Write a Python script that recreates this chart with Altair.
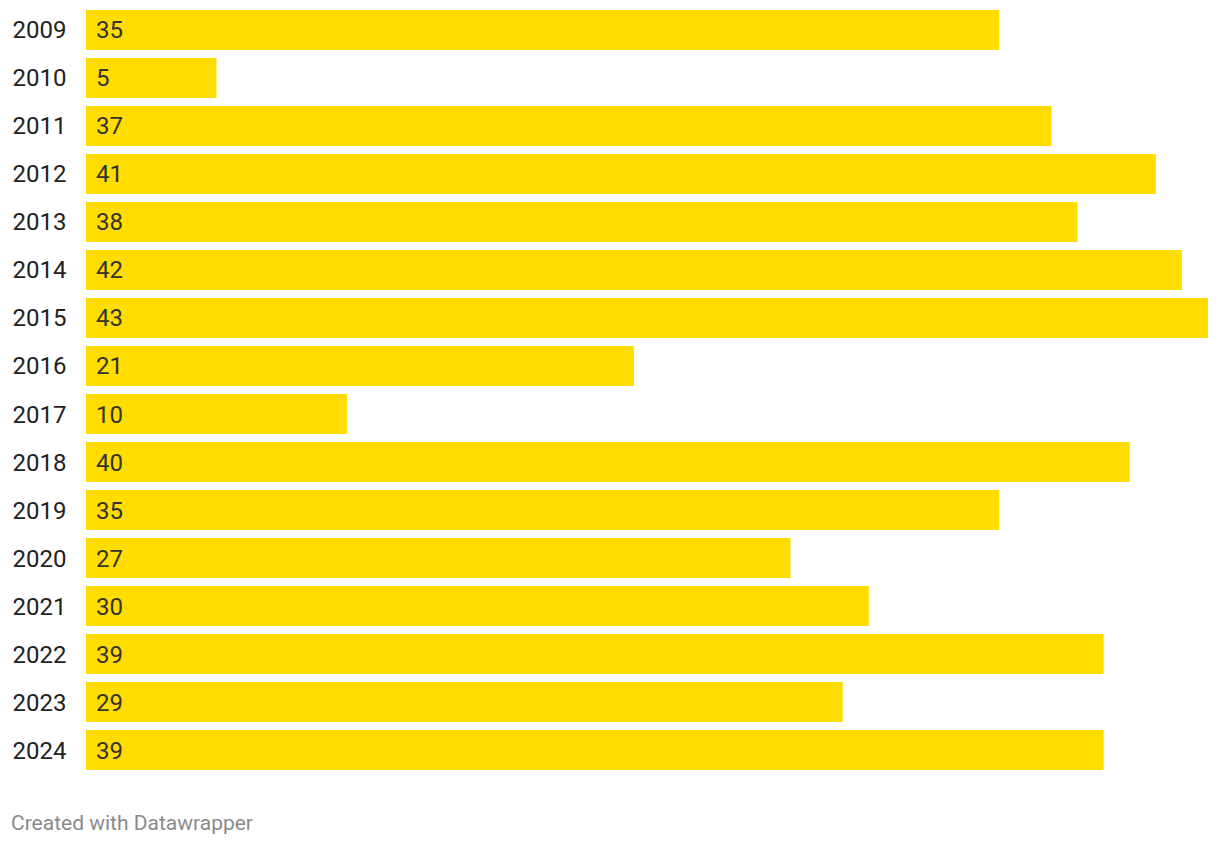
import altair as alt
import pandas as pd

years = ["2009", "2010", "2011", "2012", "2013", "2014", "2015", "2016",
         "2017", "2018", "2019", "2020", "2021", "2022", "2023", "2024"]
values = [35, 5, 37, 41, 38, 42, 43, 21, 10, 40, 35, 27, 30, 39, 29, 39]
footer = "Created with Datawrapper"

df = pd.DataFrame({"year": years, "value": values})

W = 1122
H = 768

y = alt.Y("year:N", sort=years, title=None,
          scale=alt.Scale(paddingInner=0.1667, paddingOuter=0.0833),
          axis=alt.Axis(domain=False, ticks=False, labelAlign="left",
                        labelPadding=74, labelFontSize=24, labelColor="#222222",
                        labelFont="Roboto", labelOffset=1.5, grid=False))
x = alt.X("value:Q", title=None, scale=alt.Scale(domain=[0, 43], nice=False, zero=True),
          axis=None)

bars = alt.Chart(df).mark_bar(color="#FFDD00").encode(x=x, y=y)

labels = alt.Chart(df).mark_text(align="left", baseline="middle", dx=10, dy=1.5,
                                 font="Roboto", fontSize=24, color="#333333").encode(
    x=alt.datum(0), y=alt.Y("year:N", sort=years), text="value:Q")

foot = alt.Chart(pd.DataFrame({"t": [footer]})).mark_text(
    align="left", baseline="middle", font="Roboto", fontSize=21, color="#8a8a8a").encode(
    x=alt.value(-75), y=alt.value(818), text="t:N")

chart = alt.layer(bars, labels, foot).properties(
    width=W, height=H, padding={"left": 86, "top": 6, "right": 12, "bottom": 72},
    autosize=alt.AutoSizeParams(type="none")
).configure(background="white", view=alt.ViewConfig(stroke=None))

chart.save("out.html", embed_options={"renderer": "svg", "actions": False})
